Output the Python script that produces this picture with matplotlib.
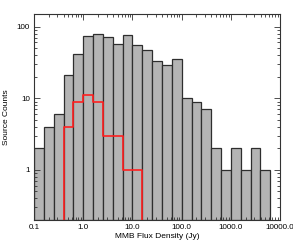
import numpy as np
import matplotlib
matplotlib.use("Agg")
import matplotlib.pyplot as plt
from matplotlib.ticker import FixedLocator, FixedFormatter, LogLocator, NullFormatter

# histogram bins: 0.2 dex wide, starting at 0.1 Jy
bin_edges = 10 ** np.arange(-1.0, 3.81, 0.2)
all_counts = [2, 4, 6, 21, 42, 75, 79, 72, 57, 77, 55, 47, 33, 29, 35, 10, 9, 7,
              2, 1, 2, 1, 2, 1]
# red subset, covering bins 0.398 .. 15.8 Jy
sub_first_bin = 3
sub_counts = [4, 9, 11, 9, 3, 3, 1, 1]

xtick_vals = [0.1, 1.0, 10.0, 100.0, 1000.0, 10000.0]
xtick_labels = ["0.1", "1.0", "10.0", "100.0", "1000.0", "10000.0"]
ytick_vals = [1, 10, 100]
ytick_labels = ["1", "10", "100"]

plt.rcParams['font.family'] = ['Liberation Sans', 'DejaVu Sans']
fig = plt.figure(figsize=(2.93, 2.45), dpi=100)
ax = fig.add_axes([0.116, 0.102, 0.84, 0.841])

ymin = 0.2
lefts = bin_edges[:-1]
widths = np.diff(bin_edges)
ax.bar(lefts, all_counts, width=widths, align='edge', bottom=ymin,
       facecolor='#b4b4b4', edgecolor='#2e2e2e', linewidth=0.9)
# bar() with bottom adds heights, so redraw heights correctly
for p, c in zip(ax.patches, all_counts):
    p.set_height(c - ymin)

sub_edges = bin_edges[sub_first_bin:sub_first_bin + len(sub_counts) + 1]
sx = np.repeat(sub_edges, 2)
sy = np.concatenate([[ymin], np.repeat(sub_counts, 2), [ymin]])
ax.plot(sx, sy, color='#ff2020', linewidth=1.2)

ax.set_xscale('log')
ax.set_yscale('log')
ax.set_xlim(0.1, 10000)
ax.set_ylim(ymin, 150)

ax.xaxis.set_major_locator(FixedLocator(xtick_vals))
ax.xaxis.set_major_formatter(FixedFormatter(xtick_labels))
ax.xaxis.set_minor_locator(LogLocator(base=10, subs=np.arange(2, 10), numticks=20))
ax.xaxis.set_minor_formatter(NullFormatter())
ax.yaxis.set_major_locator(FixedLocator(ytick_vals))
ax.yaxis.set_major_formatter(FixedFormatter(ytick_labels))
ax.yaxis.set_minor_locator(LogLocator(base=10, subs=np.arange(2, 10), numticks=20))
ax.yaxis.set_minor_formatter(NullFormatter())

ax.tick_params(which='both', direction='in', top=True, right=True,
               labelsize=5.8, color='#333333', width=0.6, pad=3)
ax.tick_params(which='major', length=4)
ax.tick_params(which='minor', length=2)
for s in ax.spines.values():
    s.set_linewidth(0.8)
    s.set_color('#333333')

ax.set_xlabel("MMB Flux Density (Jy)", fontsize=6, labelpad=1)
ax.set_ylabel("Source Counts", fontsize=6, labelpad=5)

fig.savefig("out.png", dpi=100)
